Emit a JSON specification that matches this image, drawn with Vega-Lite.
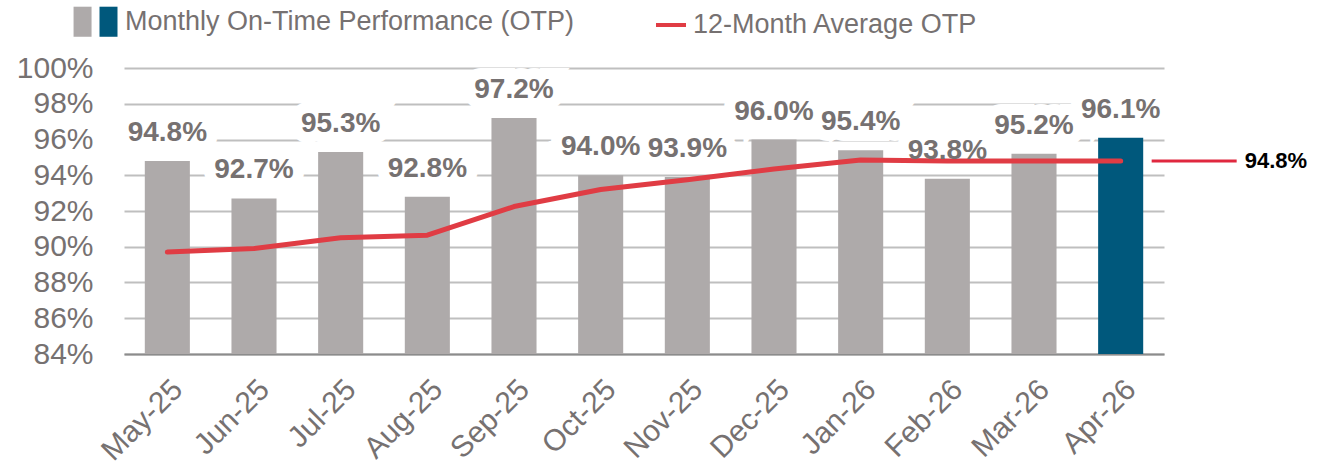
{
  "$schema": "https://vega.github.io/schema/vega-lite/v6.json",
  "autosize": {"type": "none"},
  "width": 1040,
  "height": 286,
  "padding": {"left": 124, "top": 68, "right": 165, "bottom": 115},
  "background": "white",
  "config": {
    "view": {"stroke": null},
    "font": "Liberation Sans",
    "axis": {"labelFont": "Liberation Sans", "labelColor": "#767171"},
    "legend": {"labelFont": "Liberation Sans"}
  },
  "data": {
    "values": [
      {"month": "May-25", "otp": 0.948, "avg": 0.897, "kind": "prior"},
      {"month": "Jun-25", "otp": 0.927, "avg": 0.899, "kind": "prior"},
      {"month": "Jul-25", "otp": 0.953, "avg": 0.905, "kind": "prior"},
      {"month": "Aug-25", "otp": 0.928, "avg": 0.9065, "kind": "prior"},
      {"month": "Sep-25", "otp": 0.972, "avg": 0.9225, "kind": "prior"},
      {"month": "Oct-25", "otp": 0.940, "avg": 0.932, "kind": "prior"},
      {"month": "Nov-25", "otp": 0.939, "avg": 0.9375, "kind": "prior"},
      {"month": "Dec-25", "otp": 0.960, "avg": 0.9435, "kind": "prior"},
      {"month": "Jan-26", "otp": 0.954, "avg": 0.9485, "kind": "prior"},
      {"month": "Feb-26", "otp": 0.938, "avg": 0.948, "kind": "prior"},
      {"month": "Mar-26", "otp": 0.952, "avg": 0.948, "kind": "prior"},
      {"month": "Apr-26", "otp": 0.961, "avg": 0.948, "kind": "latest"}
    ]
  },
  "encoding": {
    "x": {
      "field": "month",
      "type": "nominal",
      "sort": null,
      "title": null,
      "scale": {"paddingInner": 0.48, "paddingOuter": 0.24},
      "axis": {
        "labelAngle": -45,
        "labelFontSize": 30,
        "labelColor": "#767171",
        "ticks": false,
        "labelPadding": 20,
        "labelOverlap": false,
        "domainColor": "#8C8C8C",
        "domainWidth": 2,
        "grid": false
      }
    },
    "y": {
      "field": "otp",
      "type": "quantitative",
      "title": null,
      "scale": {"domain": [0.84, 1.0], "nice": false, "zero": false},
      "axis": {
        "format": ".0%",
        "values": [0.84, 0.86, 0.88, 0.9, 0.92, 0.94, 0.96, 0.98, 1.0],
        "tickCount": 9,
        "labelOverlap": false,
        "labelFontSize": 30,
        "labelColor": "#767171",
        "labelPadding": 31,
        "ticks": false,
        "domain": false,
        "grid": true,
        "gridColor": "#BFBFBF",
        "gridWidth": 2
      }
    }
  },
  "layer": [
    {
      "mark": {"type": "text", "fontSize": 28, "fontWeight": "bold", "dy": -20, "baseline": "alphabetic", "stroke": "white", "strokeWidth": 22, "strokeJoin": "miter", "fill": "white"},
      "encoding": {
        "text": {"field": "otp", "type": "quantitative", "format": ".1%"}
      }
    },
    {
      "mark": {"type": "bar"},
      "encoding": {
        "y2": {"datum": 0.84},
        "color": {
          "field": "kind",
          "type": "nominal",
          "scale": {"domain": ["prior", "latest"], "range": ["#AEAAAA", "#00587C"]},
          "legend": {
            "title": null,
            "orient": "none",
            "legendX": -59,
            "legendY": -60,
            "direction": "horizontal",
            "padding": 0,
            "symbolSize": 324,
            "symbolStrokeWidth": 0,
            "symbolOpacity": 1,
            "labelOffset": 3,
            "columnPadding": 0,
            "labelFontSize": 27,
            "labelColor": "#767171",
            "labelLimit": 700,
            "labelExpr": "datum.value == 'latest' ? 'Monthly On-Time Performance (OTP)' : ''",
            "encode": {
              "symbols": {
                "update": {
                  "shape": {"signal": "datum.value == 'prior' ? 'M-0.55,-1.67H1.45V1.67H-0.55Z' : 'M-1,-1.67H1V1.67H-1Z'"}
                }
              }
            }
          }
        }
      }
    },
    {
      "mark": {"type": "line", "strokeWidth": 5, "strokeCap": "round", "strokeJoin": "round"},
      "encoding": {
        "y": {"field": "avg", "type": "quantitative"},
        "stroke": {
          "datum": "12-Month Average OTP",
          "scale": {"range": ["#E03C44"]},
          "legend": {
            "title": null,
            "orient": "none",
            "legendX": 530,
            "legendY": -60,
            "padding": 0,
            "symbolType": "stroke",
            "symbolSize": 900,
            "symbolStrokeWidth": 4,
            "labelOffset": 5,
            "labelFontSize": 27,
            "labelColor": "#767171",
            "labelLimit": 700
          }
        }
      }
    },
    {
      "mark": {"type": "text", "fontSize": 28, "fontWeight": "bold", "dy": -20, "baseline": "alphabetic", "fill": "#767171"},
      "encoding": {
        "text": {"field": "otp", "type": "quantitative", "format": ".1%"}
      }
    },
    {
      "transform": [{"filter": "datum.month == 'Apr-26'"}],
      "mark": {"type": "rule", "stroke": "#E0283F", "strokeWidth": 3, "xOffset": 31, "x2Offset": 116},
      "encoding": {
        "x2": {"field": "month"},
        "y": {"field": "avg", "type": "quantitative"}
      }
    },
    {
      "transform": [{"filter": "datum.month == 'Apr-26'"}],
      "mark": {"type": "text", "fontSize": 22, "fontWeight": "bold", "align": "left", "baseline": "middle", "dx": 124, "fill": "#000000"},
      "encoding": {
        "y": {"field": "avg", "type": "quantitative"},
        "text": {"field": "avg", "type": "quantitative", "format": ".1%"}
      }
    }
  ]
}
